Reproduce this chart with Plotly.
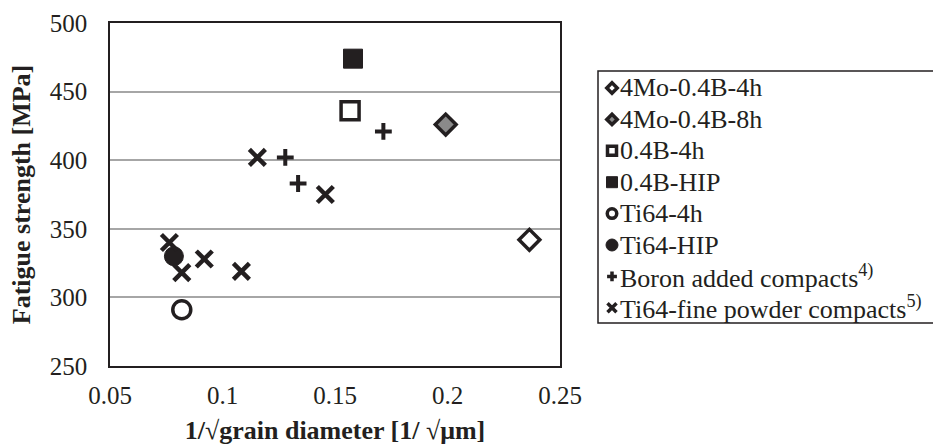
import plotly.graph_objects as go

# ---- data ----
mo4_4h_x = [0.2364]
mo4_4h_y = [342]
mo4_8h_x = [0.1992]
mo4_8h_y = [426]
b04_4h_x = [0.1567]
b04_4h_y = [436]
b04_hip_x = [0.158]
b04_hip_y = [474]
ti64_4h_x = [0.0819]
ti64_4h_y = [291]
ti64_hip_x = [0.0784]
ti64_hip_y = [330]
boron_x = [0.1279, 0.1336, 0.1715]
boron_y = [402, 383, 421]
fine_x = [0.0764, 0.0819, 0.0919, 0.1084, 0.1155, 0.1457]
fine_y = [340, 318, 328, 319, 402, 375]

series_names = [
    "4Mo-0.4B-4h", "4Mo-0.4B-8h", "0.4B-4h", "0.4B-HIP",
    "Ti64-4h", "Ti64-HIP",
    "Boron added compacts<sup>4)</sup>",
    "Ti64-fine powder compacts<sup>5)</sup>",
]
series_x = [mo4_4h_x, mo4_8h_x, b04_4h_x, b04_hip_x, ti64_4h_x, ti64_hip_x, boron_x, fine_x]
series_y = [mo4_4h_y, mo4_8h_y, b04_4h_y, b04_hip_y, ti64_4h_y, ti64_hip_y, boron_y, fine_y]

x_ticks = [0.05, 0.1, 0.15, 0.2, 0.25]
x_tick_text = ["0.05", "0.1", "0.15", "0.2", "0.25"]
y_ticks = [250, 300, 350, 400, 450, 500]

INK = "#231f20"
FONT = "Liberation Serif"

# marker styles: (symbol, size, fill, line width) for plot / legend
styles = [
    ("diamond", 16, "white", 3.5),
    ("diamond", 16, "#8a8a8a", 3.5),
    ("square", 18, "white", 3.5),
    ("square", 19, INK, 1),
    ("circle", 18, "white", 3.5),
    ("circle", 19, INK, 1),
    ("cross-thin", 12, INK, 4),
    ("x-thin", 16, INK, 4.5),
]
legend_styles = [
    ("diamond", 8, "white", 3.5),
    ("diamond", 8, "#8a8a8a", 3.5),
    ("square", 9, "white", 3.5),
    ("square", 11, INK, 1),
    ("circle", 9.5, "white", 3.5),
    ("circle", 12, INK, 1),
    ("cross-thin", 7, INK, 3.5),
    ("x-thin", 9, INK, 3.5),
]

# ---- layout geometry (pixels) ----
W, H = 933, 446
ML, MR, MT, MB = 110, 0, 23, 80
PW = W - ML - MR
PH = H - MT - MB
plot_right = 560
leg_left, leg_top, leg_bottom = 598, 71, 323
row0, row_step = 17, 31.4

fig = go.Figure()

for name, xs, ys, (sym, sz, fill, lw) in zip(series_names, series_x, series_y, styles):
    fig.add_trace(go.Scatter(
        x=xs, y=ys, mode="markers", name=name, showlegend=False,
        marker=dict(symbol=sym, size=sz, color=fill, line=dict(color=INK, width=lw)),
        xaxis="x", yaxis="y",
    ))

# legend keys (drawn on a hidden pixel-unit axis pair)
for i, (name, (sym, sz, fill, lw)) in enumerate(zip(series_names, legend_styles)):
    fig.add_trace(go.Scatter(
        x=[14], y=[row0 + row_step * i], mode="markers", showlegend=False,
        marker=dict(symbol=sym, size=sz, color=fill, line=dict(color=INK, width=lw)),
        xaxis="x2", yaxis="y2", hoverinfo="skip",
    ))
    fig.add_annotation(
        x=20, y=row0 + row_step * i, xref="x2", yref="y2", text=name,
        showarrow=False, xanchor="left", yanchor="middle",
        font=dict(family=FONT, size=26, color=INK),
    )

fig.add_shape(
    type="rect", xref="paper", yref="paper",
    x0=(leg_left - ML) / PW, x1=1.2,
    y0=(H - MB - leg_bottom) / PH, y1=(H - MB - leg_top) / PH,
    line=dict(color=INK, width=1.5), fillcolor="rgba(0,0,0,0)", layer="below",
)

fig.update_layout(
    width=W, height=H,
    margin=dict(l=ML, r=MR, t=MT, b=MB, autoexpand=False),
    paper_bgcolor="white", plot_bgcolor="white",
    font=dict(family=FONT, size=25, color=INK),
    showlegend=False,
    xaxis=dict(
        domain=[0, (plot_right - ML) / PW],
        range=[0.05, 0.25], tickvals=x_ticks, ticktext=x_tick_text,
        showgrid=False, zeroline=False,
        showline=True, linecolor=INK, linewidth=1.5, mirror=True,
        ticks="", ticklabelstandoff=6,
        tickfont=dict(family=FONT, size=25, color=INK),
        title=dict(text="<b>1/√grain diameter [1/ √μm]</b>",
                   font=dict(family=FONT, size=26, color=INK), standoff=13),
        automargin=False,
    ),
    yaxis=dict(
        range=[250, 500], tickvals=y_ticks,
        showgrid=True, gridcolor="#a6a6a6", gridwidth=1.5, zeroline=False,
        showline=True, linecolor=INK, linewidth=1.5, mirror=True,
        ticks="", ticklabelstandoff=16,
        tickfont=dict(family=FONT, size=25, color=INK),
        title=dict(text="<b>Fatigue strength [MPa]</b>",
                   font=dict(family=FONT, size=26, color=INK), standoff=12),
        automargin=False,
    ),
    xaxis2=dict(
        domain=[(leg_left - ML) / PW, 1], range=[0, W - leg_left],
        visible=False, anchor="y2", fixedrange=True,
    ),
    yaxis2=dict(
        domain=[(H - MB - leg_bottom) / PH, (H - MB - leg_top) / PH],
        range=[leg_bottom - leg_top, 0],
        visible=False, anchor="x2", fixedrange=True,
    ),
)

fig.write_html("out.html")
